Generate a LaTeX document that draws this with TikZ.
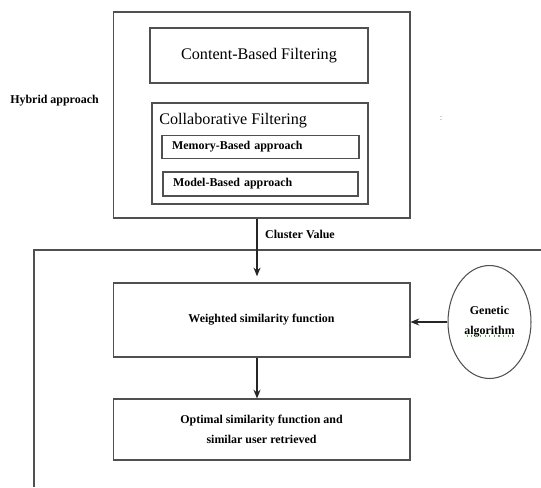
\documentclass[tikz,border=0pt]{standalone}
\usepackage{fontspec}
\setmainfont{Liberation Serif}
\usepackage{tikz}
\usetikzlibrary{positioning,calc,arrows.meta,shapes.geometric}
\definecolor{framegray}{RGB}{80,80,80}
\definecolor{spellgreen}{RGB}{70,170,70}

\begin{document}
\begin{tikzpicture}[x=0.02cm,y=-0.02cm,
		box/.style={draw=framegray,line width=0.6pt,inner sep=0pt},
		lbl/.style={font=\fontsize{6.8}{11.4}\selectfont\bfseries},
		big/.style={font=\fontsize{9.2}{11}\selectfont},
		arr/.style={-{Stealth[length=5pt,width=4pt]},line width=0.6pt,black!85}]
	\useasboundingbox (0,0) rectangle (541,487);
	
	% Khối hybrid
	\node[box,minimum width=5.94cm,minimum height=4.12cm] (hybrid) at (261.5,115) {};
	\node[box,big,minimum width=4.36cm,minimum height=1.1cm] (content) at (259,55.5) {Content-Based Filtering};
	\node[box,minimum width=4.32cm,minimum height=2.02cm] (collab) at (260,153.5) {};
	\node[big,anchor=west,inner sep=0pt] (collabtitle) at (159,121) {Collaborative Filtering};
	\node[box,lbl,text width=3.54cm,align=left,minimum width=3.94cm,minimum height=0.46cm] (memory) at (260.5,147) {Memory-Based approach};
	\node[box,lbl,text width=3.5cm,align=left,minimum width=3.9cm,minimum height=0.48cm] (model) at (260.5,184) {Model-Based approach};
	\node[lbl] (hybridlbl) at (54.5,101) {Hybrid approach};
	\node[font=\tiny,text=black!50] (dots) at (441,118) {:};
	
	% Khung dưới
	\draw[framegray,line width=0.6pt] (541,250) -- (34,250) -- (34,487);
	\node[lbl] (cluster) at (300,234) {Cluster Value};
	
	\node[box,lbl,minimum width=5.94cm,minimum height=1.48cm] (weighted) at (261.5,320) {Weighted similarity function};
	\node[box,lbl,align=center,minimum width=5.94cm,minimum height=1.22cm] (optimal) at (261.5,429.5) {Optimal similarity function and\\similar user retrieved};
	\node[draw=framegray,ellipse,line width=0.6pt,inner sep=0pt,minimum width=1.66cm,minimum height=2.26cm,lbl,align=center] (ga) at (489.5,322) {Genetic\\algorithm};
	\draw[spellgreen,dotted,line width=0.6pt] ($(ga.center)+(-23,14)$) -- ++(46,0);
	
	% Mũi tên
	\draw[arr,shorten >=3.5pt] ($(hybrid.south)+(-4.5,0)$) -- ($(weighted.north)+(-4.5,0)$);
	\draw[arr] ($(weighted.south)+(-4.5,0)$) -- ($(optimal.north)+(-4.5,0)$);
	\draw[arr] (ga.west) -- (ga.west -| weighted.east);
\end{tikzpicture}
\end{document}
